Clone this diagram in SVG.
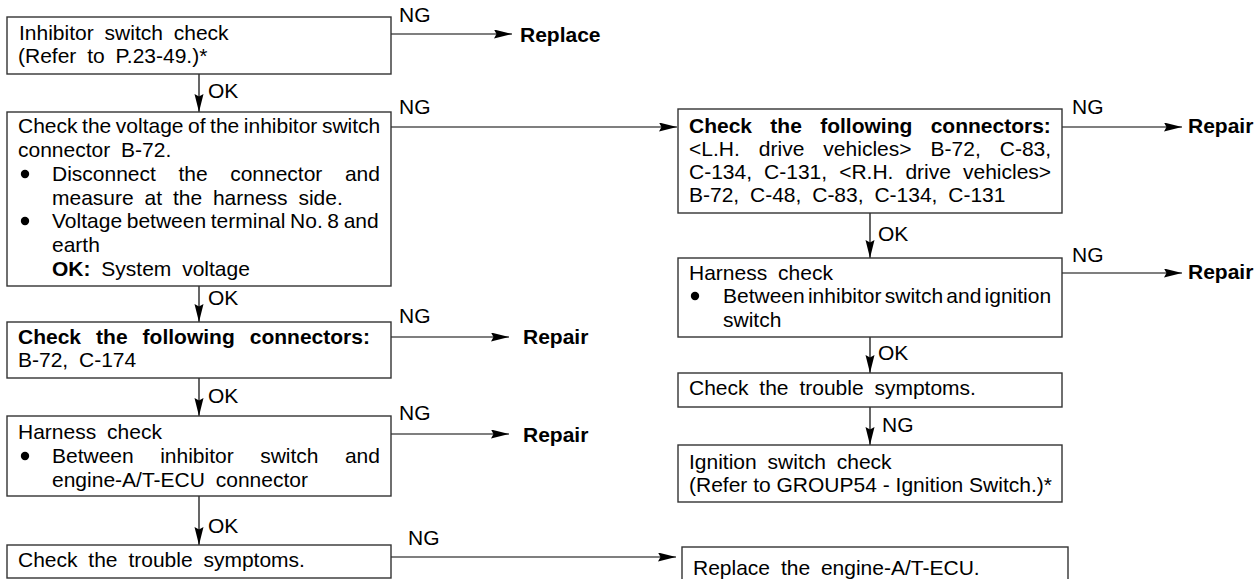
<svg xmlns="http://www.w3.org/2000/svg" width="1259" height="579" viewBox="0 0 1259 579">
<defs>
<marker id="ah" markerUnits="userSpaceOnUse" markerWidth="19" markerHeight="10" refX="18" refY="4.5" orient="auto">
<path d="M0,0 L18,4.5 L0,9 L2.5,4.5 Z" fill="#000"/>
</marker>
<style>
.box{fill:#fff;stroke:#333;stroke-width:1.4}
.t{font-family:"Liberation Sans",Arial,Helvetica,sans-serif;font-size:21px;fill:#000}
.w{word-spacing:5px}
.b{font-weight:bold}
.c{fill:none;stroke:#000;stroke-width:1.2;marker-end:url(#ah)}
.dot{fill:#000}
</style>
</defs>
<rect width="1259" height="579" fill="#fff"/>

<g id="connectors">
<line class="c" x1="391" y1="34" x2="512" y2="34"/>
<line class="c" x1="199" y1="74" x2="199" y2="112"/>
<line class="c" x1="391" y1="127" x2="677" y2="127"/>
<line class="c" x1="199" y1="286" x2="199" y2="322"/>
<line class="c" x1="391" y1="337" x2="509" y2="337"/>
<line class="c" x1="199" y1="378" x2="199" y2="416"/>
<line class="c" x1="391" y1="434" x2="509" y2="434"/>
<line class="c" x1="199" y1="496" x2="199" y2="545"/>
<line class="c" x1="391" y1="557" x2="676" y2="557"/>
<line class="c" x1="1062" y1="127" x2="1182" y2="127"/>
<line class="c" x1="870" y1="213" x2="870" y2="258"/>
<line class="c" x1="1062" y1="273" x2="1182" y2="273"/>
<line class="c" x1="870" y1="337" x2="870" y2="373"/>
<line class="c" x1="870" y1="407" x2="870" y2="445"/>
<g class="t">
<text x="399" y="22">NG</text>
<text x="208" y="98">OK</text>
<text x="399" y="114">NG</text>
<text x="208" y="305">OK</text>
<text x="399" y="323">NG</text>
<text x="208" y="403">OK</text>
<text x="399" y="420">NG</text>
<text x="208" y="533">OK</text>
<text x="408" y="545">NG</text>
<text x="1072" y="114">NG</text>
<text x="878" y="241">OK</text>
<text x="1072" y="262">NG</text>
<text x="878" y="360">OK</text>
<text x="882" y="432">NG</text>
</g>
</g>

<g id="n1">
<rect class="box" x="7" y="17" width="384" height="57"/>
<text class="t w" x="19" y="40">Inhibitor switch check</text>
<text class="t w" x="18" y="63">(Refer to P.23-49.)*</text>
</g>
<g id="replace1"><text class="t b" x="520" y="42">Replace</text></g>

<g id="n2">
<rect class="box" x="7" y="112" width="384" height="174"/>
<text class="t" x="18" y="133" word-spacing="-1.3">Check the voltage of the inhibitor switch</text>
<text class="t w" x="18" y="157">connector B-72.</text>
<circle class="dot" cx="25" cy="174" r="4.2"/>
<text class="t" x="52" y="181" word-spacing="16.7">Disconnect the connector and</text>
<text class="t w" x="52" y="205">measure at the harness side.</text>
<circle class="dot" cx="25" cy="221" r="4.2"/>
<text class="t" x="52" y="228" word-spacing="-1.2">Voltage between terminal No. 8 and</text>
<text class="t" x="52" y="252">earth</text>
<text class="t w" x="52" y="276"><tspan class="b">OK:</tspan> System voltage</text>
</g>

<g id="n3">
<rect class="box" x="7" y="322" width="384" height="56"/>
<text class="t b" x="18" y="344" word-spacing="9.2">Check the following connectors:</text>
<text class="t w" x="18" y="367">B-72, C-174</text>
</g>
<g id="repair1"><text class="t b" x="523" y="344">Repair</text></g>

<g id="n4">
<rect class="box" x="7" y="416" width="384" height="80"/>
<text class="t w" x="18" y="439">Harness check</text>
<circle class="dot" cx="25" cy="456" r="4.2"/>
<text class="t" x="52" y="463" word-spacing="20.6">Between inhibitor switch and</text>
<text class="t w" x="52" y="487">engine-A/T-ECU connector</text>
</g>
<g id="repair2"><text class="t b" x="523" y="442">Repair</text></g>

<g id="n5">
<rect class="box" x="7" y="545" width="384" height="33"/>
<text class="t w" x="18" y="567">Check the trouble symptoms.</text>
</g>

<g id="n6">
<rect class="box" x="682" y="547" width="386" height="60"/>
<text class="t w" x="693" y="575">Replace the engine-A/T-ECU.</text>
</g>

<g id="r1">
<rect class="box" x="678" y="109" width="384" height="104"/>
<text class="t b" x="689" y="133" word-spacing="12.5">Check the following connectors:</text>
<text class="t" x="689" y="156" word-spacing="13.2">&lt;L.H. drive vehicles&gt; B-72, C-83,</text>
<text class="t" x="689" y="179" word-spacing="6.2">C-134, C-131, &lt;R.H. drive vehicles&gt;</text>
<text class="t w" x="689" y="202">B-72, C-48, C-83, C-134, C-131</text>
</g>
<g id="repair3"><text class="t b" x="1188" y="133">Repair</text></g>

<g id="r2">
<rect class="box" x="678" y="258" width="384" height="79"/>
<text class="t w" x="689" y="280">Harness check</text>
<circle class="dot" cx="695" cy="296" r="4.2"/>
<text class="t" x="723" y="303" word-spacing="-2.6">Between inhibitor switch and ignition</text>
<text class="t" x="723" y="327">switch</text>
</g>
<g id="repair4"><text class="t b" x="1188" y="279">Repair</text></g>

<g id="r3">
<rect class="box" x="678" y="373" width="384" height="34"/>
<text class="t w" x="689" y="395">Check the trouble symptoms.</text>
</g>

<g id="r4">
<rect class="box" x="678" y="445" width="384" height="57"/>
<text class="t w" x="689" y="469">Ignition switch check</text>
<text class="t" x="689" y="492">(Refer to GROUP54 - Ignition Switch.)*</text>
</g>
</svg>
